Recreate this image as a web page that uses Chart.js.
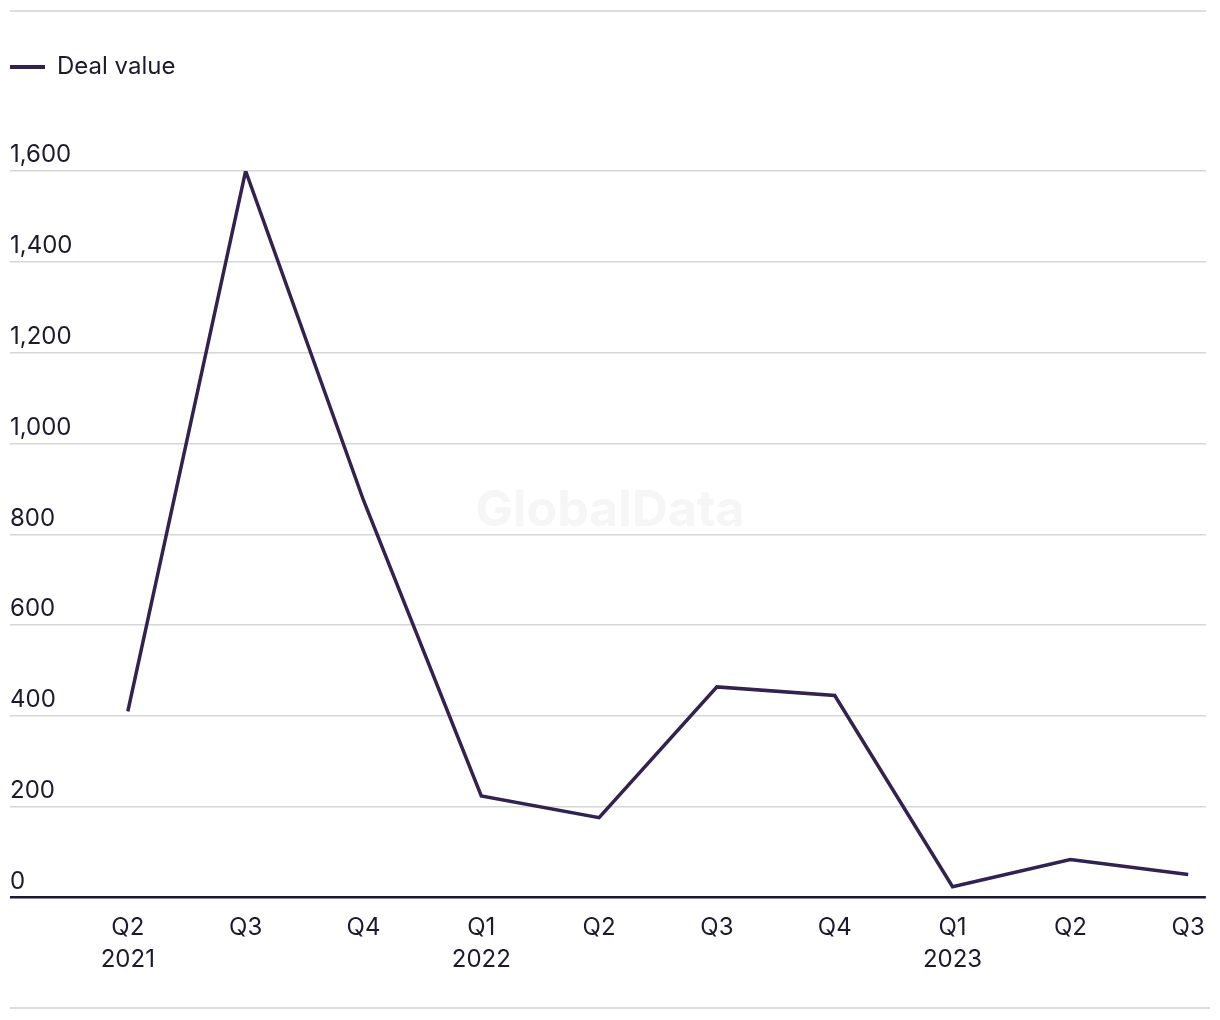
<!DOCTYPE html>
<html>
<head>
<meta charset="utf-8">
<script src="https://cdn.jsdelivr.net/npm/chart.js@4"></script>
<style>
  html, body { margin: 0; padding: 0; background: #fff; }
  #wrap { width: 1220px; height: 1020px; }
</style>
</head>
<body>
<div id="wrap"><canvas id="myChart" width="1220" height="1020"></canvas></div>
<script>
const quarters = ['Q2', 'Q3', 'Q4', 'Q1', 'Q2', 'Q3', 'Q4', 'Q1', 'Q2', 'Q3'];
const years = ['2021', '', '', '2022', '', '', '', '2023', '', ''];
const dealValue = [410, 1600, 875, 224, 176, 464, 445, 24, 84, 51];
const yTicks = [0, 200, 400, 600, 800, 1000, 1200, 1400, 1600];

const ink = '#1b1a2e';
const purple = '#33214f';

const ctx = document.getElementById('myChart');

// extra room under the legend
const legendSpace = {
  id: 'legendSpace',
  beforeInit(chart) {
    const fit = chart.legend.fit;
    chart.legend.fit = function () {
      fit.bind(chart.legend)();
      this.height += 82;
    };
  }
};

// top / bottom rules and watermark
const decor = {
  id: 'decor',
  beforeDatasetsDraw(chart) {
    const c = chart.ctx;
    c.save();
    c.strokeStyle = '#dddddd';
    c.lineWidth = 2;
    c.beginPath();
    c.moveTo(10, 11); c.lineTo(1206, 11);
    c.moveTo(10, 1008); c.lineTo(1210, 1008);
    c.stroke();
    c.fillStyle = '#f6f6f6';
    c.font = 'bold 50px Inter, "Liberation Sans", sans-serif';
    c.textAlign = 'center';
    c.textBaseline = 'middle';
    c.fillText('GlobalData', 610, 511);
    c.restore();
  }
};

new Chart(ctx, {
  type: 'line',
  data: {
    datasets: [{
      label: 'Deal value',
      data: dealValue.map((v, i) => ({ x: i, y: v })),
      borderColor: purple,
      backgroundColor: purple,
      borderWidth: 3.5,
      pointRadius: 0,
      tension: 0
    }]
  },
  options: {
    responsive: false,
    animation: false,
    layout: { padding: { left: 10, right: 14, top: 55, bottom: 30 } },
    plugins: {
      tooltip: { enabled: false },
      legend: {
        position: 'top',
        align: 'start',
        labels: {
          boxWidth: 35,
          boxHeight: 4,
          padding: 0,
          color: ink,
          font: { family: 'Inter', size: 24 },
          generateLabels: () => [{
            text: 'Deal value',
            fillStyle: purple,
            strokeStyle: purple,
            lineWidth: 0,
            fontColor: ink
          }]
        }
      }
    },
    scales: {
      x: {
        type: 'linear',
        min: -1,
        max: 9.15,
        grid: { display: false, drawTicks: false },
        border: { display: false },
        afterBuildTicks: axis => { axis.ticks = quarters.map((q, i) => ({ value: i })); },
        ticks: {
          padding: 15,
          color: ink,
          maxRotation: 0,
          autoSkip: false,
          font: { family: 'Inter', size: 24, lineHeight: 1.3 },
          callback: v => years[v] ? [quarters[v], years[v]] : quarters[v]
        }
      },
      y: {
        min: 0,
        max: 1600,
        afterBuildTicks: axis => { axis.ticks = yTicks.map(v => ({ value: v })); },
        grid: {
          drawTicks: false,
          color: c => c.tick && c.tick.value === 0 ? ink : '#d6d6d6',
          lineWidth: c => c.tick && c.tick.value === 0 ? 2.5 : 1.5
        },
        border: { display: false },
        ticks: {
          mirror: true,
          padding: 0,
          labelOffset: -16,
          color: ink,
          font: { family: 'Inter', size: 24 },
          callback: v => v.toLocaleString('en-US')
        }
      }
    }
  },
  plugins: [legendSpace, decor]
});
</script>
</body>
</html>
